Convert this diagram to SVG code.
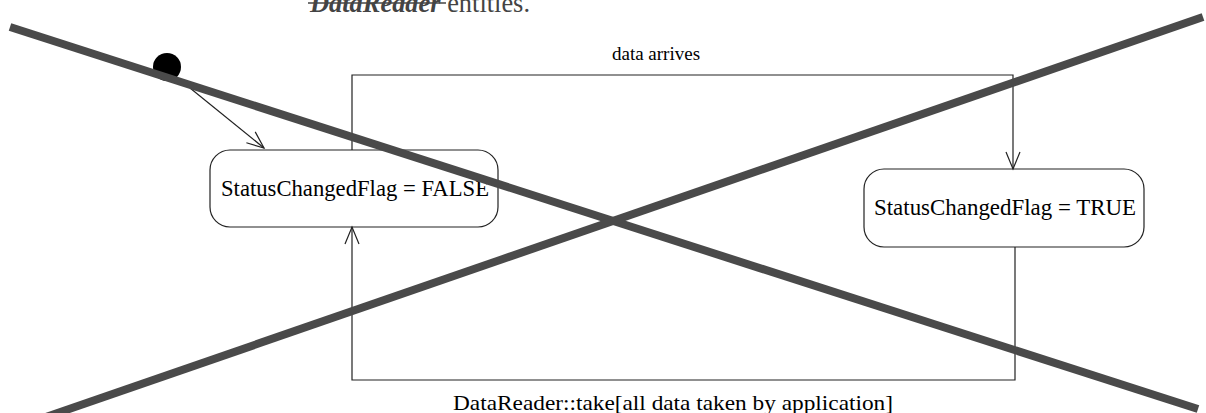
<svg xmlns="http://www.w3.org/2000/svg" width="1206" height="413" viewBox="0 0 1206 413">
<style>
.state{fill:#fff;stroke:#222;stroke-width:1.2}
.lbl{font-family:"Liberation Serif","Times New Roman",serif;fill:#000}
.conn{fill:none;stroke:#222;stroke-width:1.2}
.cross{stroke:#4a4a4a;stroke-width:8;stroke-linecap:butt}
</style>
<defs>
<marker id="open" viewBox="0 0 20 20" refX="18" refY="10" markerWidth="20" markerHeight="20" markerUnits="userSpaceOnUse" orient="auto">
<path d="M1,3 L18,10 L1,17" fill="none" stroke="#222" stroke-width="1.2"/>
</marker>
</defs>
<text x="310" y="12" style="font-family:'Liberation Serif',serif;font-size:26.5px;fill:#444" textLength="220" lengthAdjust="spacingAndGlyphs"><tspan font-weight="bold" font-style="italic">DataReader</tspan> entities.</text>
<line x1="308" y1="3" x2="446" y2="3" stroke="#444" stroke-width="1.5"/>
<g id="initial">
<circle cx="167" cy="67" r="14" fill="#000"/>
</g>
<g id="falseState">
<rect class="state" x="210" y="150" width="288" height="77" rx="20" ry="20"/>
<text class="lbl" x="221" y="196" font-size="23" textLength="268" lengthAdjust="spacingAndGlyphs">StatusChangedFlag = FALSE</text>
</g>
<g id="trueState">
<rect class="state" x="864" y="169" width="280" height="78" rx="20" ry="20"/>
<text class="lbl" x="874" y="215" font-size="23" textLength="262" lengthAdjust="spacingAndGlyphs">StatusChangedFlag = TRUE</text>
</g>
<g id="connectors">
<line class="conn" x1="190" y1="88" x2="264" y2="148" marker-end="url(#open)"/>
<polyline class="conn" points="352,150 352,75 1013,75 1013,169" marker-end="url(#open)"/>
<polyline class="conn" points="1015,247 1015,380 352,380 352,227" marker-end="url(#open)"/>
<text class="lbl" x="656" y="60" font-size="19" text-anchor="middle">data arrives</text>
<text class="lbl" x="453" y="410" font-size="22" textLength="440" lengthAdjust="spacingAndGlyphs">DataReader::take[all data taken by application]</text>
</g>
<line class="cross" x1="10" y1="27" x2="1198" y2="409"/>
<line class="cross" x1="46" y1="417" x2="1203" y2="17"/>
</svg>
